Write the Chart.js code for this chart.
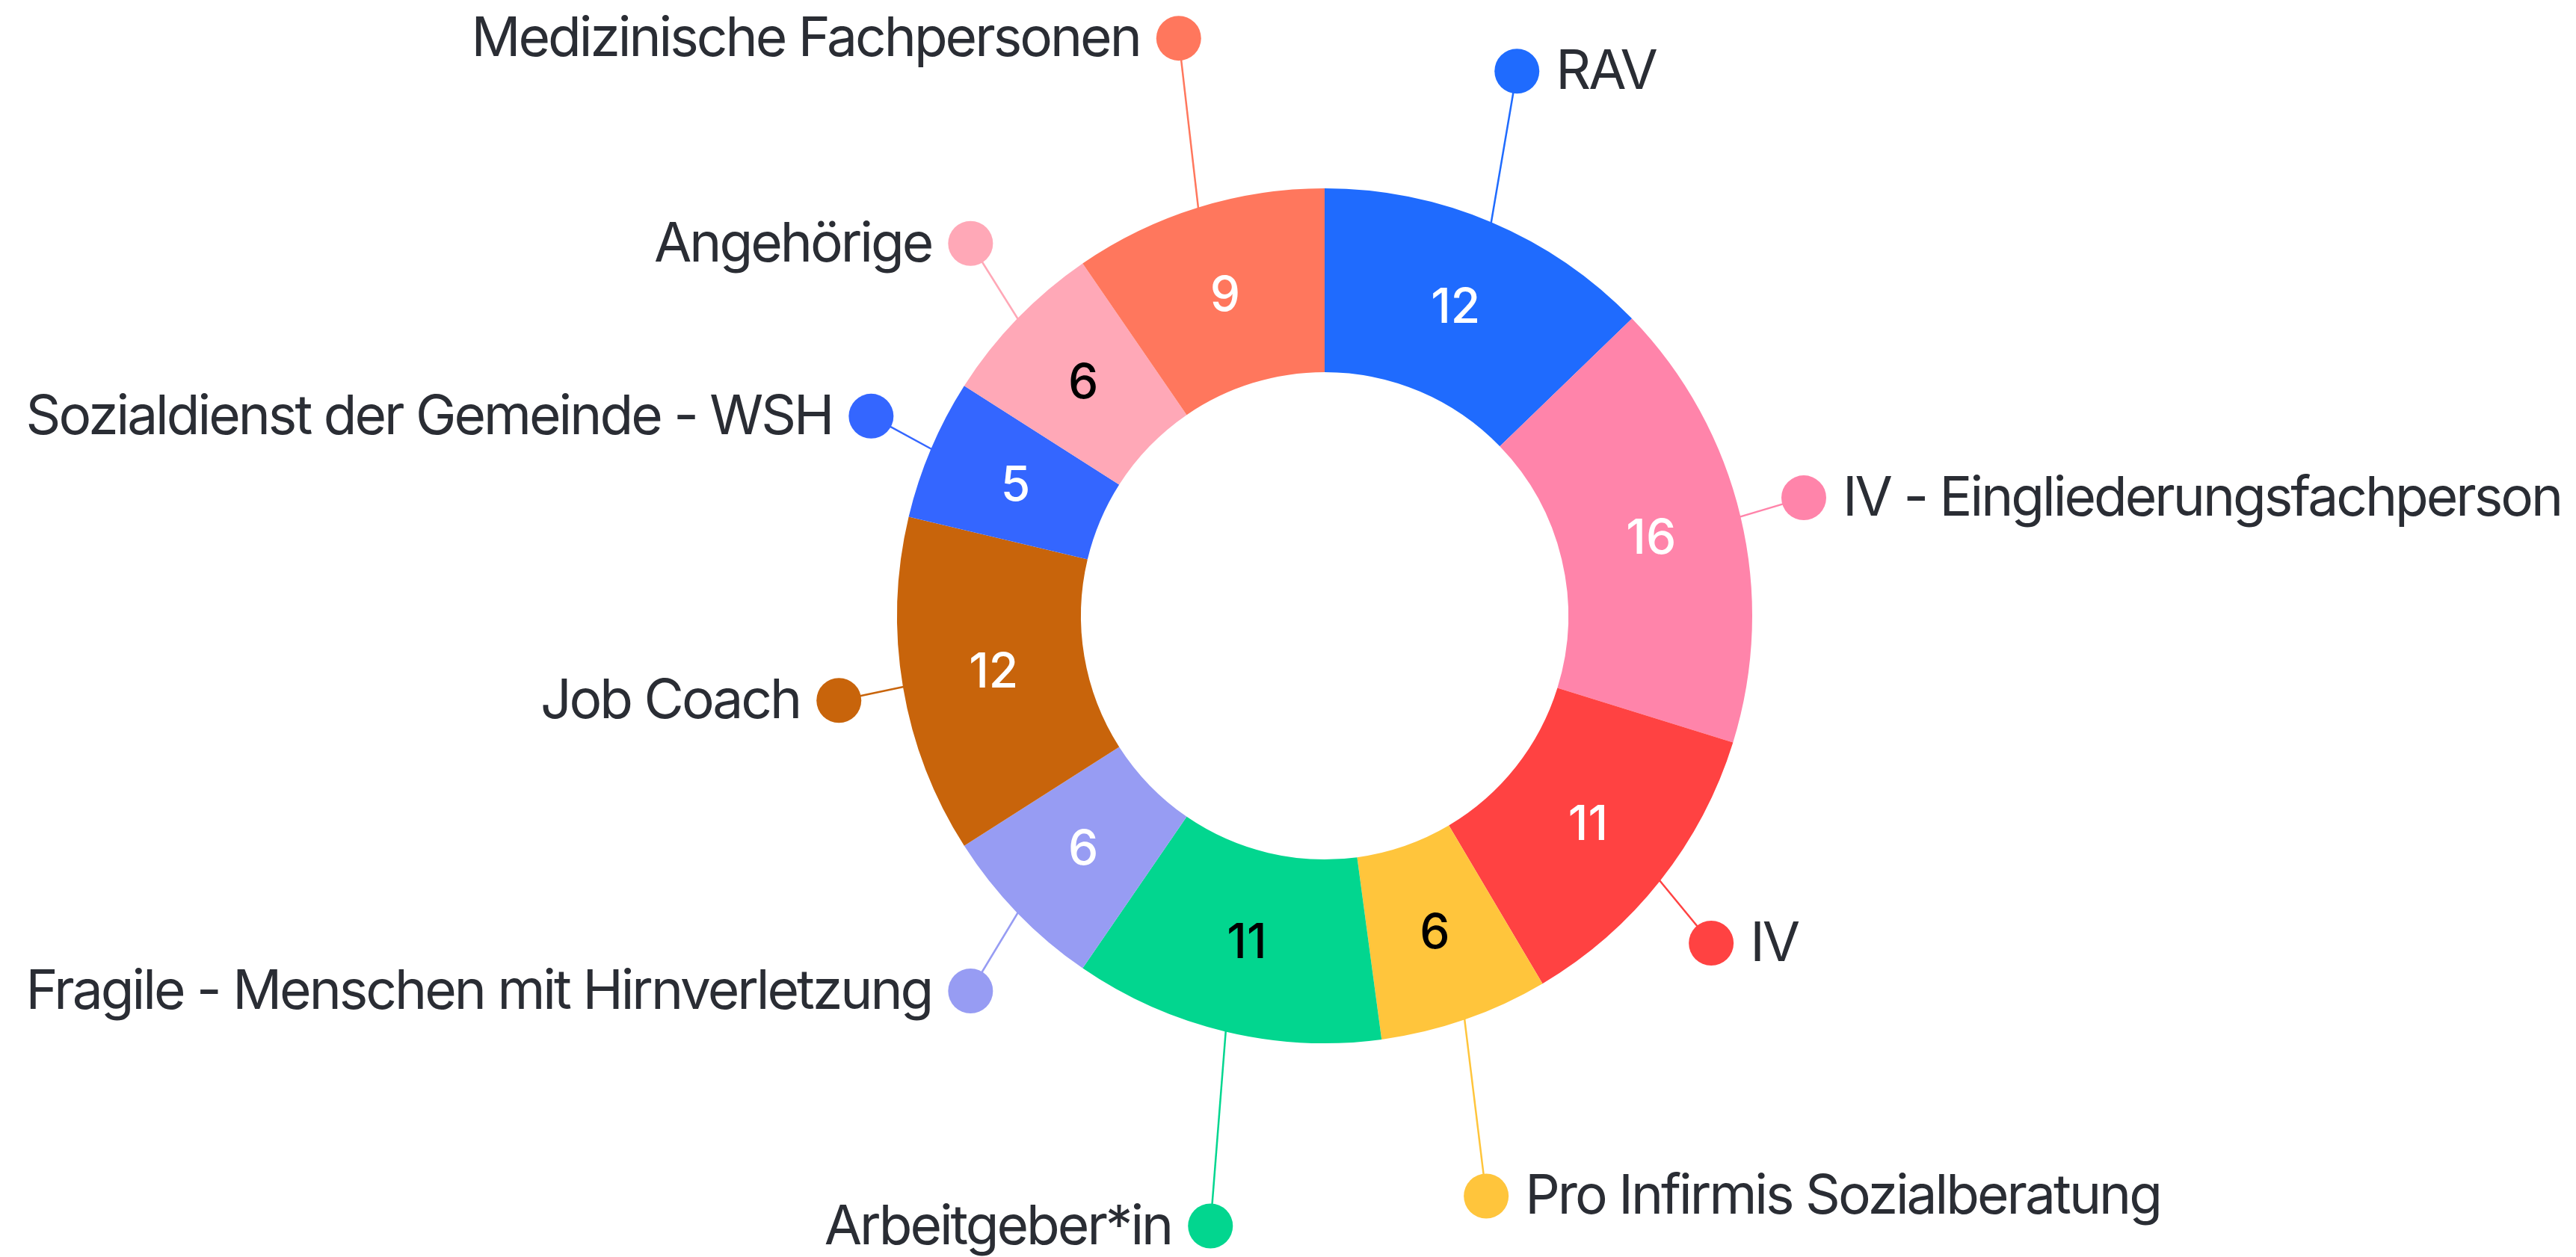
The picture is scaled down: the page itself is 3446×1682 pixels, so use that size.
<!DOCTYPE html>
<html>
<head>
<meta charset="utf-8">
<script src="https://cdn.jsdelivr.net/npm/chart.js@4"></script>
<style>
  html, body { margin: 0; padding: 0; background: #ffffff; }
  #wrap { width: 3446px; height: 1682px; }
</style>
</head>
<body>
<div id="wrap"><canvas id="myChart" width="3446" height="1682"></canvas></div>
<script>
const categories = [
  "RAV",
  "IV - Eingliederungsfachperson",
  "IV",
  "Pro Infirmis Sozialberatung",
  "Arbeitgeber*in",
  "Fragile - Menschen mit Hirnverletzung",
  "Job Coach",
  "Sozialdienst der Gemeinde - WSH",
  "Angehörige",
  "Medizinische Fachpersonen"
];
const values = [12, 16, 11, 6, 11, 6, 12, 5, 6, 9];
const sliceColors = [
  "#1f6bfe",
  "#ff84aa",
  "#ff4242",
  "#ffc53c",
  "#02d68f",
  "#979cf3",
  "#c8640b",
  "#3466ff",
  "#ffa8b7",
  "#ff775d"
];
const valueColors = ["#fff", "#fff", "#fff", "#000", "#000", "#fff", "#fff", "#fff", "#000", "#fff"];

// draws the numbers in the ring and the outside labels with leader lines + dots
const calloutPlugin = {
  id: "callouts",
  afterDatasetsDraw(chart) {
    const ctx = chart.ctx;
    const meta = chart.getDatasetMeta(0);
    meta.data.forEach((arc, i) => {
      const a = (arc.startAngle + arc.endAngle) / 2;
      const cx = arc.x, cy = arc.y;
      const R = arc.outerRadius;
      const midR = (arc.innerRadius + arc.outerRadius) / 2;
      const cos = Math.cos(a), sin = Math.sin(a);

      // value in the middle of the ring
      ctx.save();
      ctx.font = "500 64px Inter";
      ctx.fillStyle = valueColors[i];
      ctx.textAlign = "center";
      ctx.textBaseline = "middle";
      ctx.fillText(String(values[i]), cx + cos * midR, cy + sin * midR + 2);
      ctx.restore();

      // dots sit on an oval around the ring, stretched near top and bottom
      const stretch = sin > 0 ? 0.31 : 0.27;
      const rx = R * 1.152;
      const ry = R * (1.19 + stretch * Math.pow(sin, 4));
      const dx = cx + cos * rx;
      const dy = cy + sin * ry;

      ctx.save();
      ctx.strokeStyle = sliceColors[i];
      ctx.lineWidth = 2.5;
      ctx.beginPath();
      ctx.moveTo(cx + cos * (R - 2), cy + sin * (R - 2));
      ctx.lineTo(dx, dy);
      ctx.stroke();

      ctx.fillStyle = sliceColors[i];
      ctx.beginPath();
      ctx.arc(dx, dy, 30, 0, Math.PI * 2);
      ctx.fill();

      ctx.font = "400 73px Inter";
      ctx.letterSpacing = "-3px";
      ctx.fillStyle = "#2a2d34";
      ctx.textBaseline = "middle";
      if (cos < 0) {
        ctx.textAlign = "right";
        ctx.fillText(categories[i], dx - 52, dy + 2);
      } else {
        ctx.textAlign = "left";
        ctx.fillText(categories[i], dx + 52, dy + 2);
      }
      ctx.restore();
    });
  }
};

new Chart("myChart", {
  type: "doughnut",
  data: {
    labels: categories,
    datasets: [{
      data: values,
      backgroundColor: sliceColors,
      borderWidth: 0
    }]
  },
  options: {
    responsive: false,
    animation: false,
    cutout: "57%",
    layout: {
      padding: { left: 1200, right: 1102, top: 252, bottom: 286 }
    },
    plugins: {
      legend: { display: false },
      tooltip: { enabled: false }
    }
  },
  plugins: [calloutPlugin]
});
</script>
</body>
</html>
